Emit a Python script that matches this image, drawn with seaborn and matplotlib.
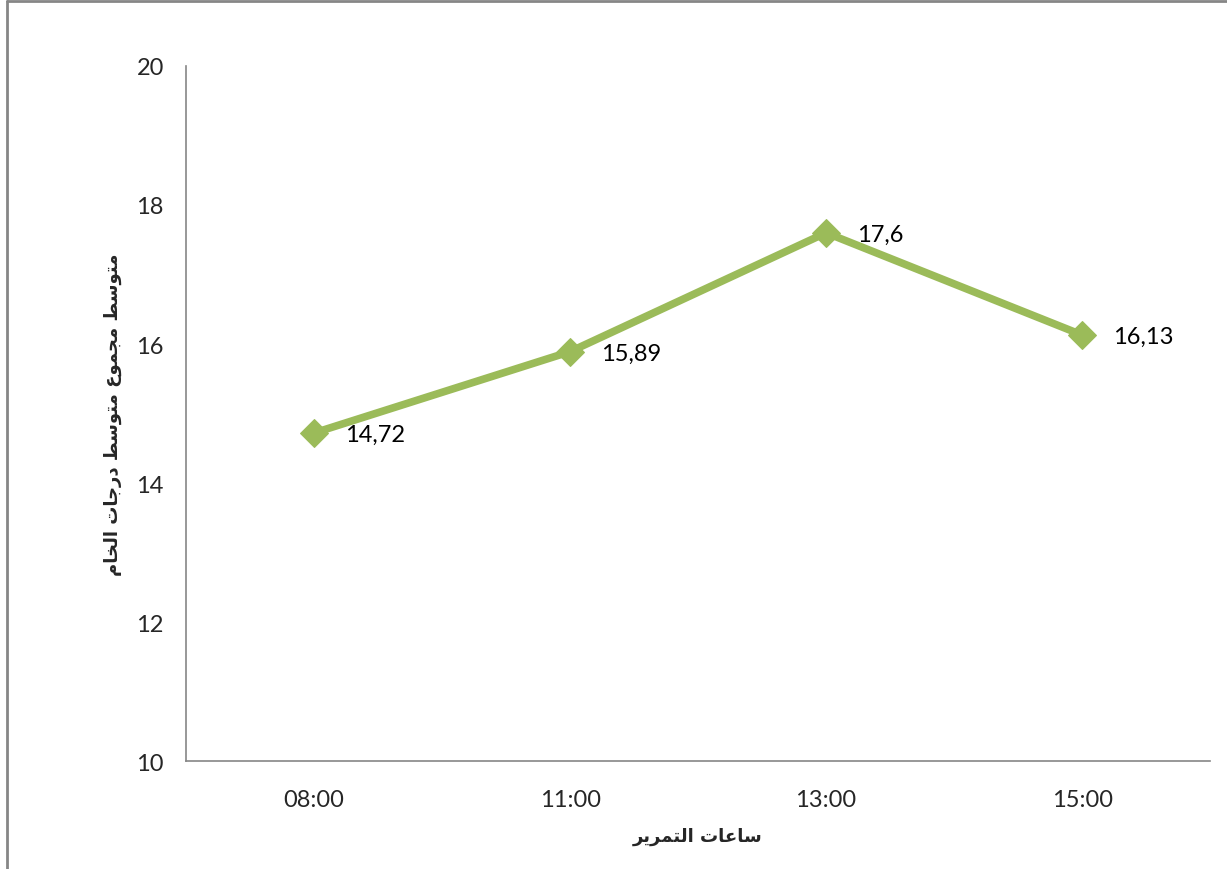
import matplotlib
matplotlib.use('Agg')
import matplotlib.pyplot as plt
import matplotlib.lines as mlines
import pandas as pd
import seaborn as sns

# data
hours = ['08:00', '11:00', '13:00', '15:00']
scores = [14.72, 15.89, 17.6, 16.13]
labels = ['14,72', '15,89', '17,6', '16,13']
y_ticks = [10, 12, 14, 16, 18, 20]

# Arabic titles, pre-shaped (presentation forms) and in visual order,
# since matplotlib does no Arabic shaping / bidi on its own
x_title = '\uFEAE\uFEF3\uFEAE\uFEE4\uFE98\uFEDF\uFE8D \uFE95\uFE8E\uFECB\uFE8E\uFEB3'   # ساعات التمرير
y_title = ('\uFEE1\uFE8E\uFEA8\uFEDF\uFE8D \uFE95\uFE8E\uFE9F\uFEAD\uFEA9 '
           '\uFEC2\uFEB3\uFEEE\uFE98\uFEE3 \uFEC9\uFEEE\uFEE4\uFEA0\uFEE3 '
           '\uFEC2\uFEB3\uFEEE\uFE98\uFEE3')                                          # متوسط مجموع متوسط درجات الخام

df = pd.DataFrame({'hour': hours, 'score': scores})

sns.set_style('white')
plt.rcParams['font.family'] = ['Lato', 'DejaVu Sans']

green = '#9BBB59'
grey = '#868686'

fig = plt.figure(figsize=(12.27, 8.7), dpi=100)
ax = fig.add_axes([0.1516, 0.1241, 0.8346, 0.7989])

sns.lineplot(data=df, x='hour', y='score', sort=False, color=green, lw=5.5,
             marker='D', markersize=14, markeredgecolor=green, ax=ax)

for i, (v, t) in enumerate(zip(scores, labels)):
    ax.annotate(t, (i, v), xytext=(22, -1), textcoords='offset points',
                ha='left', va='center', fontsize=17, color='black')

ax.set_xlim(-0.5, len(hours) - 0.5)
ax.set_ylim(10, 20)
ax.set_yticks(y_ticks)
ax.set_yticklabels([str(v) for v in y_ticks])

# category boundaries get the tick marks, labels sit between them
ax.set_xticks([i - 0.5 for i in range(len(hours) + 1)])
ax.set_xticklabels([])
ax.set_xticks(range(len(hours)), minor=True)
ax.set_xticklabels(hours, minor=True)
ax.tick_params(axis='x', which='major', length=6, width=1, color=grey, direction='out')
ax.tick_params(axis='x', which='minor', length=0, pad=20, labelsize=17)
ax.tick_params(axis='y', length=6, width=1, color=grey, direction='out', pad=10, labelsize=17)

for s in ['top', 'right']:
    ax.spines[s].set_visible(False)
for s in ['left', 'bottom']:
    ax.spines[s].set_color(grey)
    ax.spines[s].set_linewidth(1.2)

ax.set_xlabel(x_title, fontsize=13, fontweight='bold', family=['DejaVu Sans'], labelpad=12)
ax.set_ylabel(y_title, fontsize=13, fontweight='bold', family=['DejaVu Sans'], labelpad=10)

# outer frame of the chart area
fig.add_artist(mlines.Line2D([7 / 1227, 7 / 1227], [0, 1 - 2 / 870], color=grey, lw=2))
fig.add_artist(mlines.Line2D([7 / 1227, 1], [1 - 2 / 870, 1 - 2 / 870], color=grey, lw=2))

fig.savefig('out.png', dpi=100)
